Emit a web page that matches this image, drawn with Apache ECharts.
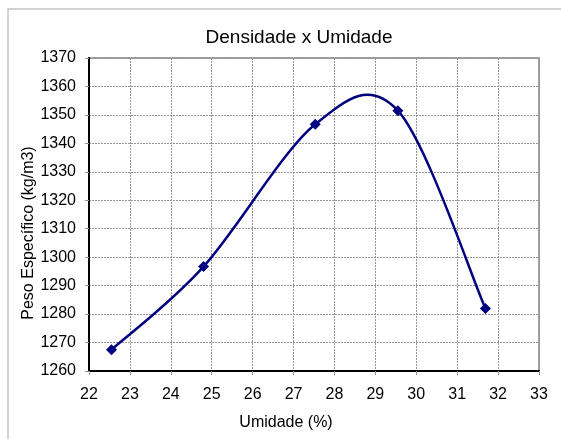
<!DOCTYPE html>
<html>
<head>
<meta charset="utf-8">
<script src="https://cdn.jsdelivr.net/npm/echarts@6/dist/echarts.min.js"></script>
<style>
  html, body { margin: 0; padding: 0; background: #fff; }
  #chart { width: 561px; height: 439px; }
</style>
</head>
<body>
<div id="chart"></div>
<script>
// dados
var umidade = [22.55, 24.8, 27.53, 29.55, 31.69];
var pesoEspecifico = [1267.5, 1296.7, 1346.7, 1351.5, 1282];
var xTicks = [22, 23, 24, 25, 26, 27, 28, 29, 30, 31, 32, 33];
var yTicks = [1260, 1270, 1280, 1290, 1300, 1310, 1320, 1330, 1340, 1350, 1360, 1370];

var pontos = umidade.map(function (u, i) { return [u, pesoEspecifico[i]]; });

var myChart = echarts.init(document.getElementById('chart'), null, {renderer: 'canvas'});

var fonte = 'Liberation Sans, Arial, sans-serif';
var azul = '#000080';

// curva suavizada estilo Excel (bezier com tangentes de Catmull-Rom), um trecho por ponto
function desenhaTrecho(params, api) {
    var i = params.dataIndex;
    if (i >= pontos.length - 1) {
        return null;
    }
    var p0 = api.coord(pontos[Math.max(i - 1, 0)]);
    var p1 = api.coord(pontos[i]);
    var p2 = api.coord(pontos[i + 1]);
    var p3 = api.coord(pontos[Math.min(i + 2, pontos.length - 1)]);
    return {
        type: 'bezierCurve',
        shape: {
            x1: p1[0], y1: p1[1],
            x2: p2[0], y2: p2[1],
            cpx1: p1[0] + (p2[0] - p0[0]) / 6,
            cpy1: p1[1] + (p2[1] - p0[1]) / 6,
            cpx2: p2[0] - (p3[0] - p1[0]) / 6,
            cpy2: p2[1] - (p3[1] - p1[1]) / 6
        },
        style: { fill: null, stroke: azul, lineWidth: 2.5 }
    };
}

option = {
    animation: false,
    title: {
        text: 'Densidade x Umidade',
        left: 294,
        top: 23,
        textAlign: 'center',
        textStyle: { fontFamily: fonte, fontSize: 19, fontWeight: 'normal', color: '#000' }
    },
    graphic: [{
        type: 'rect',
        shape: { x: 8, y: 9, width: 600, height: 500 },
        style: { fill: 'none', stroke: '#c4c4c4', lineWidth: 1.5 },
        silent: true,
        z: -10
    }],
    grid: {
        left: 89,
        top: 58,
        right: 22,
        bottom: 68,
        show: true,
        borderColor: '#a0a0a0',
        borderWidth: 2
    },
    xAxis: {
        type: 'value',
        min: xTicks[0],
        max: xTicks[xTicks.length - 1],
        interval: 1,
        name: 'Umidade (%)',
        nameLocation: 'middle',
        nameGap: 44,
        nameTextStyle: { fontFamily: fonte, fontSize: 16, color: '#000', padding: [0, 56, 0, 0] },
        axisLine: { onZero: false, lineStyle: { color: '#000', width: 2 } },
        axisTick: { show: true, length: 4, lineStyle: { color: '#909090' } },
        axisLabel: { fontFamily: fonte, fontSize: 16, color: '#000', margin: 16 },
        splitLine: { show: true, lineStyle: { color: '#969696', type: [2, 1], width: 1 } }
    },
    yAxis: {
        type: 'value',
        min: yTicks[0],
        max: yTicks[yTicks.length - 1],
        interval: 10,
        name: 'Peso Específico (kg/m3)',
        nameLocation: 'middle',
        nameGap: 52,
        nameMoveOverlap: false,
        nameTextStyle: { fontFamily: fonte, fontSize: 16, color: '#000', padding: [0, 37, 0, 0] },
        axisLine: { show: true, onZero: false, lineStyle: { color: '#000', width: 2 } },
        axisTick: { show: true, length: 4, lineStyle: { color: '#909090' } },
        axisLabel: {
            fontFamily: fonte, fontSize: 16, color: '#000', margin: 13,
            formatter: function (v) { return String(v); }
        },
        splitLine: { show: true, lineStyle: { color: '#969696', type: [2, 1], width: 1 } }
    },
    series: [{
        name: 'Curva',
        type: 'custom',
        renderItem: desenhaTrecho,
        data: pontos,
        z: 2
    }, {
        name: 'Densidade',
        type: 'scatter',
        data: pontos,
        symbol: 'diamond',
        symbolSize: 11,
        itemStyle: { color: azul, opacity: 1 },
        z: 3
    }]
};

myChart.setOption(option);
</script>
</body>
</html>
